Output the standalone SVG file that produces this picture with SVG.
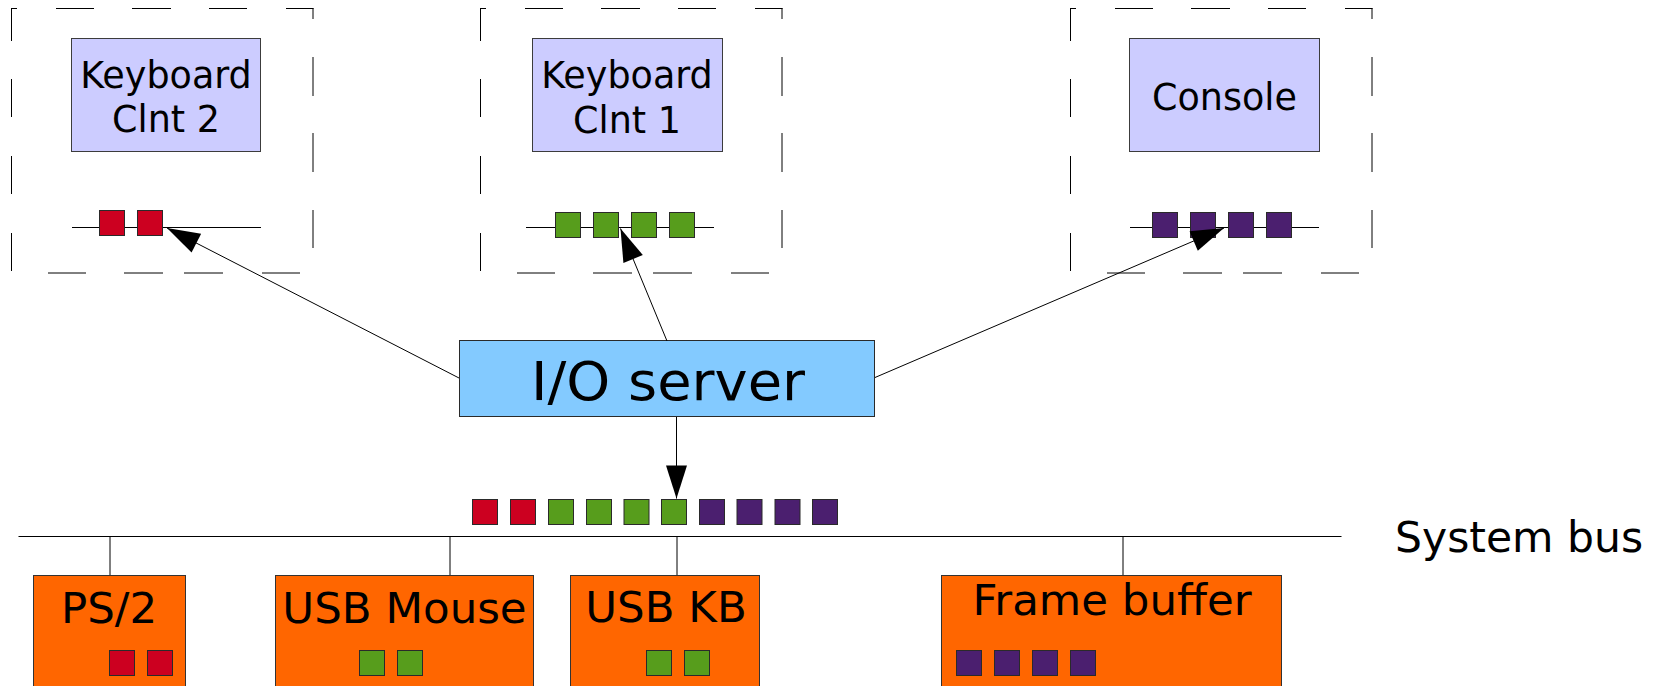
<svg xmlns="http://www.w3.org/2000/svg" xmlns:xlink="http://www.w3.org/1999/xlink" width="1656" height="686" viewBox="0 0 1656 686">
  <style>
    text { font-family: "DejaVu Sans", Verdana, "Liberation Sans", sans-serif; fill: #000; }
    .frame { fill: none; stroke: #000; stroke-width: 1; }
    .client { fill: #ccccff; stroke: #3c3c3c; stroke-width: 1; }
    .server { fill: #83caff; stroke: #2a2a2a; stroke-width: 1; }
    .device { fill: #ff6600; stroke: #333; stroke-width: 1; }
    .qline { fill: none; stroke: #000; stroke-width: 1; }
    .red { fill: #cc0020; stroke: #2a2a2a; stroke-width: 1; }
    .green { fill: #579d1c; stroke: #2a2a2a; stroke-width: 1; }
    .purple { fill: #4b1f6f; stroke: #2a2a2a; stroke-width: 1; }
    .conn { fill: none; stroke: #000; stroke-width: 1; }
    .tap { fill: none; stroke: #000; stroke-width: 1; }
    .lbl-client { font-size: 36.5px; text-anchor: middle; }
    .lbl-server { font-size: 53px; text-anchor: middle; }
    .lbl-dev { font-size: 43.5px; text-anchor: middle; }
    .lbl-bus { font-size: 42.5px; }
  </style>
  <defs>
    <marker id="arrow" markerUnits="userSpaceOnUse" markerWidth="34" markerHeight="22" refX="33" refY="10.5" orient="auto" overflow="visible">
      <path d="M0 0 L33 10.5 L0 21 Z" fill="#000"/>
    </marker>
    <!-- dashed protection-domain outline, drawn edge by edge -->
    <path id="domain" class="frame" d="M11 8.5 H17 M56 8.5 H94 M132 8.5 H171 M209 8.5 H247 M286 8.5 H313.5
      M313 8 V19 M313 57 V96 M313 133 V172 M313 210 V248
      M11.5 8 V41 M11.5 79 V117 M11.5 156 V194 M11.5 233 V271
      M48 273 H86 M124 273 H163 M184 273 H223 M262 273 H300"/>
  </defs>

  <!-- client domains -->
  <g id="keyboard-clnt-2">
    <use href="#domain" xlink:href="#domain"/>
    <rect class="client" x="71.5" y="38.5" width="189" height="113"/>
    <text class="lbl-client" x="166" y="87.5">Keyboard</text>
    <text class="lbl-client" x="166" y="132">Clnt 2</text>
    <path class="qline" d="M72 227.5 H261"/>
    <rect class="red" x="99.5" y="210.5" width="25" height="25"/>
    <rect class="red" x="137.5" y="210.5" width="25" height="25"/>
  </g>

  <g id="keyboard-clnt-1">
    <use href="#domain" xlink:href="#domain" transform="translate(469,0)"/>
    <rect class="client" x="532.5" y="38.5" width="190" height="113"/>
    <text class="lbl-client" x="627" y="87.5">Keyboard</text>
    <text class="lbl-client" x="627" y="132.5">Clnt 1</text>
    <path class="qline" d="M526 227.5 H714"/>
    <rect class="green" x="555.5" y="212.5" width="25" height="25"/>
    <rect class="green" x="593.5" y="212.5" width="25" height="25"/>
    <rect class="green" x="631.5" y="212.5" width="25" height="25"/>
    <rect class="green" x="669.5" y="212.5" width="25" height="25"/>
  </g>

  <g id="console">
    <use href="#domain" xlink:href="#domain" transform="translate(1059,0)"/>
    <rect class="client" x="1129.5" y="38.5" width="190" height="113"/>
    <text class="lbl-client" x="1224.5" y="110">Console</text>
    <path class="qline" d="M1130 227.5 H1319"/>
    <rect class="purple" x="1152.5" y="212.5" width="25" height="25"/>
    <rect class="purple" x="1190.5" y="212.5" width="25" height="25"/>
    <rect class="purple" x="1228.5" y="212.5" width="25" height="25"/>
    <rect class="purple" x="1266.5" y="212.5" width="25" height="25"/>
  </g>

  <!-- I/O server -->
  <g id="io-server">
    <rect class="server" x="459.5" y="340.5" width="415" height="76"/>
    <text class="lbl-server" x="668" y="400" textLength="274" lengthAdjust="spacingAndGlyphs">I/O server</text>
  </g>

  <!-- pending event queue on the bus -->
  <g id="bus-queue">
    <rect class="red" x="472.5" y="499.5" width="25" height="25"/>
    <rect class="red" x="510.5" y="499.5" width="25" height="25"/>
    <rect class="green" x="548.5" y="499.5" width="25" height="25"/>
    <rect class="green" x="586.5" y="499.5" width="25" height="25"/>
    <rect class="green" x="624" y="499.5" width="25" height="25"/>
    <rect class="green" x="661.5" y="499.5" width="25" height="25"/>
    <rect class="purple" x="699.5" y="499.5" width="25" height="25"/>
    <rect class="purple" x="737" y="499.5" width="25" height="25"/>
    <rect class="purple" x="775" y="499.5" width="25" height="25"/>
    <rect class="purple" x="812.5" y="499.5" width="25" height="25"/>
  </g>

  <!-- system bus -->
  <g id="system-bus">
    <path class="qline" d="M18.5 536.5 H1341.5"/>
    <text class="lbl-bus" x="1395" y="552">System bus</text>
  </g>

  <!-- devices -->
  <g id="dev-ps2">
    <rect class="device" x="33.5" y="575.5" width="152" height="130"/>
    <text class="lbl-dev" x="109" y="623">PS/2</text>
    <rect class="red" x="109.5" y="650.5" width="25" height="25"/>
    <rect class="red" x="147.5" y="650.5" width="25" height="25"/>
  </g>

  <g id="dev-usb-mouse">
    <rect class="device" x="275.5" y="575.5" width="258" height="130"/>
    <text class="lbl-dev" x="404.5" y="623">USB Mouse</text>
    <rect class="green" x="359.5" y="650.5" width="25" height="25"/>
    <rect class="green" x="397.5" y="650.5" width="25" height="25"/>
  </g>

  <g id="dev-usb-kb">
    <rect class="device" x="570.5" y="575.5" width="189" height="130"/>
    <text class="lbl-dev" x="666" y="622">USB KB</text>
    <rect class="green" x="646.5" y="650.5" width="25" height="25"/>
    <rect class="green" x="684.5" y="650.5" width="25" height="25"/>
  </g>

  <g id="dev-frame-buffer">
    <rect class="device" x="941.5" y="575.5" width="340" height="130"/>
    <text class="lbl-dev" x="1112" y="615">Frame buffer</text>
    <rect class="purple" x="956.5" y="650.5" width="25" height="25"/>
    <rect class="purple" x="994.5" y="650.5" width="25" height="25"/>
    <rect class="purple" x="1032.5" y="650.5" width="25" height="25"/>
    <rect class="purple" x="1070.5" y="650.5" width="25" height="25"/>
  </g>

  <!-- connectors -->
  <g id="connectors">
    <path class="conn" d="M459 378 L167 228" marker-end="url(#arrow)"/>
    <path class="conn" d="M667 341 L620.5 228.5" marker-end="url(#arrow)"/>
    <path class="conn" d="M875 377.5 L1224 228" marker-end="url(#arrow)"/>
    <path class="conn" d="M676.5 417 V498.5" marker-end="url(#arrow)"/>
    <path class="tap" d="M110 537 V575"/>
    <path class="tap" d="M450 537 V575"/>
    <path class="tap" d="M677 537 V575"/>
    <path class="tap" d="M1123 537 V575"/>
  </g>
</svg>
